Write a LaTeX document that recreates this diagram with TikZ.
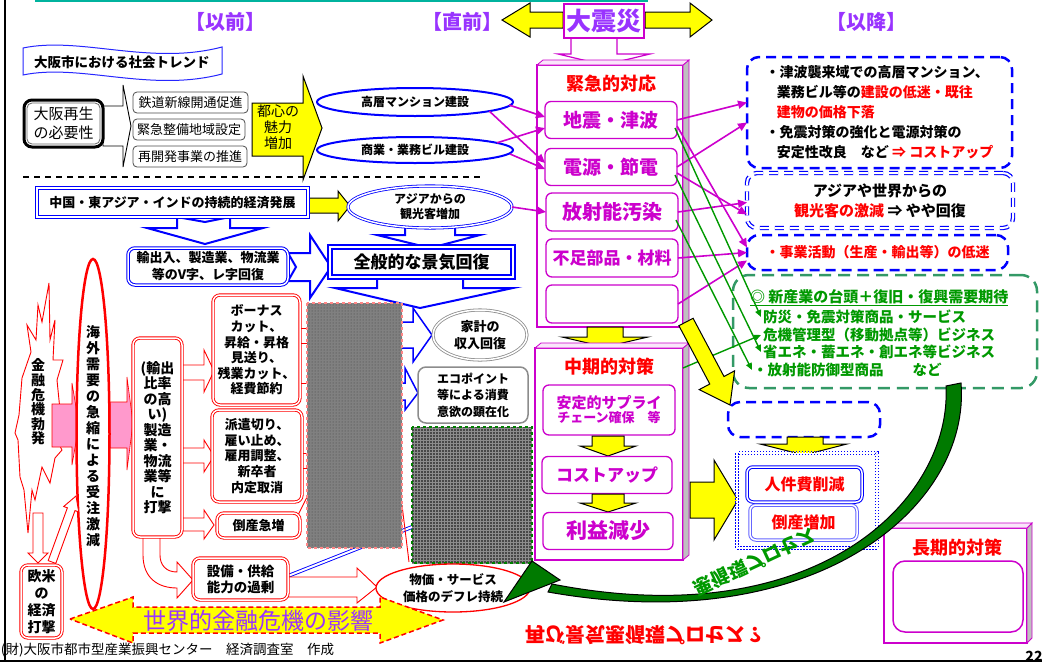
\documentclass[tikz,border=0pt]{standalone}
\usepackage{fontspec}
\setmainfont{Noto Sans CJK JP}
\usetikzlibrary{shapes.geometric,arrows.meta,calc,patterns}
\definecolor{vio}{HTML}{9933FF}
\definecolor{mag}{HTML}{CC00CC}
\definecolor{blu}{HTML}{0000FF}
\definecolor{grn}{HTML}{009900}
\definecolor{gdash}{HTML}{339966}
\definecolor{yel}{HTML}{FFFF00}
\definecolor{tealx}{HTML}{00B39E}
\definecolor{pinkx}{HTML}{FF99CC}
\definecolor{dkgrn}{HTML}{007A00}
\newcommand\fz[2]{\fontsize{#1}{#2}\selectfont}
\begin{document}
\begin{tikzpicture}[x=1pt,y=-1pt,
  every node/.style={inner sep=0pt,outer sep=0pt},
  hd/.style={font=\fz{20}{22}\bfseries,text=vio},
  yarr/.style={fill=yel,draw=black,line width=1pt,line join=miter},
  barr/.style={draw=blu,line width=2pt,fill=white,line join=miter},
  rarr/.style={draw=red,line width=0.9pt,fill=white,line join=miter},
  parr/.style={draw=red,line width=0.6pt,fill=pinkx},
  bigmag/.style={draw=mag,line width=1.2pt,fill=white},
  sideface/.style={draw=mag,line width=0.8pt,fill=black!25},
  topface/.style={draw=mag,line width=0.8pt,fill=mag!10},
  sub/.style={draw=mag,line width=1.3pt,fill=white,rounded corners=6pt,text=mag,minimum width=132pt,minimum height=37pt},
  reddbl/.style={draw=red,double=white,double distance=1.5pt,line width=0.9pt,rounded corners=7pt,fill=white,align=center},
  bludbl/.style={draw=blu,double=white,double distance=1.5pt,line width=1pt,fill=white,align=center},
  sbox/.style={draw=black!70,line width=0.8pt,rounded corners=4pt,fill=white,font=\fz{13}{15},minimum height=21pt},
  bdash/.style={draw=blu,dash pattern=on 10pt off 6pt,line width=2.5pt,rounded corners=12pt,fill=white},
  gtxt/.style={anchor=west,text=grn,font=\fz{14.5}{16}\bfseries},
  magarr/.style={draw=mag,line width=1.6pt,-{Triangle[length=9pt,width=8pt]}},
  grnarr/.style={draw=grn,line width=1.4pt,-{Triangle[length=7pt,width=6pt]}},
]
\useasboundingbox (0,0) rectangle (1042,662);
% frame
\draw[tealx,line width=2pt] (35,1) -- (648,1);
\draw[black,line width=2pt] (5,0) -- (5,662);
\draw[black,line width=1.5pt] (0,661) -- (1042,661);

% headings
\node[hd] (hmae) at (225,22) {【以前】};
\node[hd] (hchok) at (462,22) {【直前】};
\node[hd] (hgo) at (866,22) {【以降】};
\draw[yarr] (502,20) -- (530,3) -- (530,12) -- (563,12) -- (563,28) -- (530,28) -- (530,37) -- cycle;
\draw[yarr] (645,12) -- (690,12) -- (690,3) -- (712,20) -- (690,37) -- (690,28) -- (645,28) -- cycle;
\draw[draw=mag,line width=1.2pt,fill=white,line join=miter] (571,37) -- (571,54) -- (558,54) -- (604,65) -- (650,54) -- (617,54) -- (617,37) -- cycle;
\node[draw=mag,line width=1.2pt,fill=white,minimum width=80pt,minimum height=34pt,text=vio,font=\fz{25}{28}\bfseries] (dai) at (604,21) {大震災};

% ---------- before: trend ----------
\draw[blu!85,line width=1pt,fill=white] (23,48) .. controls (80,36) and (150,66) .. (222,47) -- (222,74) .. controls (150,93) and (80,63) .. (23,75) -- cycle;
\node[font=\fz{13.5}{16}\bfseries] (trend) at (122,62) {大阪市における社会トレンド};
\draw[draw=black,line width=0.9pt,fill=white,line join=miter] (103,106) -- (123,106) -- (123,85) -- (131,126) -- (123,167) -- (123,146) -- (103,146) -- cycle;
\node[draw=black,line width=3pt,rounded corners=8pt,minimum width=79pt,minimum height=47pt,align=center,font=\fz{15}{19},fill=white] (saisei) at (63.5,123.5) {大阪再生\\の必要性};
\draw[black!60,line width=0.8pt,rounded corners=5pt] ($(saisei.south west)+(3,-3)$) rectangle ($(saisei.north east)+(-3,3)$);
\node[sbox,minimum width=115pt] (tetsu) at (190.5,102.5) {鉄道新線開通促進};
\node[sbox,minimum width=112pt] (kinkyu) at (189,129.5) {緊急整備地域設定};
\node[sbox,minimum width=114pt] (saikai) at (190,156.5) {再開発事業の推進};
\draw[yarr] (252,103) -- (303,103) -- (303,76) -- (322,128) -- (303,180) -- (303,156) -- (252,156) -- cycle;
\node[align=center,font=\fz{14}{16}] (toshin) at (278,127) {都心の\\魅力\\増加};
\draw[dash pattern=on 6pt off 5pt,line width=1.2pt] (23,177) -- (480,177);

% ---------- blue chain ----------
\draw[barr] (177,217) -- (205,222) -- (230,217) -- (230,228) -- (263,228) -- (205,244) -- (147,228) -- (177,228) -- cycle;
\draw[barr] (405,221) -- (430,228) -- (455,221) -- (455,235) -- (480,235) -- (430,248) -- (377,235) -- (405,235) -- cycle;
\draw[barr] (288,253) -- (310,253) -- (310,235) -- (331,267) -- (310,298) -- (310,281) -- (288,281) -- (296,267) -- cycle;
\draw[barr] (377,277) -- (463,277) -- (463,288) -- (513,288) -- (420,308) -- (335,288) -- (377,288) -- cycle;
\draw[yarr] (308,198) -- (338,198) -- (338,191) -- (350,206) -- (338,221) -- (338,213) -- (308,213) -- cycle;
\node[draw=blu,line width=1.3pt,double=white,double distance=1.5pt,minimum width=271pt,minimum height=29pt,font=\fz{13}{16}\bfseries,fill=white] (chugoku) at (172.5,202.5) {中国・東アジア・インドの持続的経済発展};
\node[ellipse,draw=blu,double=white,double distance=1.5pt,line width=0.8pt,minimum width=164pt,minimum height=42pt,align=center,font=\fz{12}{15}\bfseries,fill=white] (asia) at (430,207) {アジアからの\\観光客増加};
\node[bludbl,rounded corners=7pt,minimum width=160pt,minimum height=37pt,font=\fz{13}{17}\bfseries] (yushutsu) at (208,266.5) {輸出入、製造業、物流業\\等のV字、レ字回復};
\node[draw=blu,line width=1.8pt,double=white,double distance=1.5pt,minimum width=183pt,minimum height=30pt,font=\fz{17}{20}\bfseries,fill=white] (zenpan) at (421.5,262) {全般的な景気回復};
\node[ellipse,draw=blu,line width=2pt,minimum width=196pt,minimum height=28pt,font=\fz{12}{14}\bfseries,fill=white] (koso) at (415,102) {高層マンション建設};
\node[ellipse,draw=blu,line width=2pt,minimum width=196pt,minimum height=26pt,font=\fz{12}{14}\bfseries,fill=white] (shogyo) at (415,150) {商業・業務ビル建設};

% arrows behind the gray blocks
\draw[draw=blu,line width=1.5pt,fill=white] (395,322) -- (413,322) -- (413,308) -- (432,335) -- (413,362) -- (413,348) -- (395,348) -- cycle;
\draw[draw=blu,line width=1.5pt,fill=white] (395,383) -- (405,383) -- (405,368) -- (418,393) -- (405,410) -- (405,400) -- (395,400) -- cycle;
\draw[blu,double=white,double distance=2pt,line width=0.9pt] (288,576) -- (412,527);
\draw[rarr] (298,328) rectangle (308,343);
\draw[red,line width=0.9pt] (298,383) -- (308,383);
\draw[rarr] (298,453) rectangle (308,468);
\draw[red,line width=0.9pt] (298,515) -- (308,495);
\draw[red,line width=0.9pt] (402,505) -- (409,562);
% gray blocks
\fill[black!50] (307,303) rectangle (402,548);
\fill[pattern=dots,pattern color=black!75] (307,303) rectangle (402,548);
\draw[pink!70!red,dashed,line width=1.2pt] (307,303) rectangle (402,548);
\fill[black!72] (412,427) rectangle (532,563);
\fill[pattern=grid,pattern color=black!45] (412,427) rectangle (532,563);
\draw[green!50!black,dashed,line width=1.5pt] (412,427) rectangle (532,563);
\node[ellipse,draw=black!45,double=white,double distance=1.5pt,line width=0.8pt,minimum width=94pt,minimum height=50pt,align=center,font=\fz{13}{17}\bfseries,fill=white] (kakei) at (480,335) {家計の\\収入回復};
\node[draw=black!45,line width=1.5pt,rounded corners=8pt,minimum width=110pt,minimum height=56pt,align=center,font=\fz{12}{16.5}\bfseries,fill=white] (eco) at (473,395) {エコポイント\\等による消費\\意欲の顕在化};

% ---------- red part ----------
\draw[draw=red,line width=0.9pt,fill=white,line join=miter] (49,283) -- (50,340) -- (55,320) -- (53,360) -- (63,360) -- (57,380) -- (61,420) -- (57,440) -- (62,450) -- (55,458) -- (50,483) -- (42,467) -- (35,500) -- (32,490) -- (28,533) -- (24,490) -- (20,477) -- (18,440) -- (15,433) -- (19,415) -- (22,378) -- (31,352) -- (27,325) -- (36,340) -- (38,305) -- (42,322) -- cycle;
\node[align=center,font=\fz{14}{14.6}\bfseries] (kinyu) at (38,402) {金\\融\\危\\機\\勃\\発};
\draw[parr] (52,404) -- (72,404) -- (72,383) -- (79,425) -- (72,465) -- (72,447) -- (52,447) -- cycle;
\draw[parr] (110,402) -- (127,402) -- (127,377) -- (133,423) -- (127,470) -- (127,448) -- (110,448) -- cycle;
\node[ellipse,draw=red,line width=2.5pt,minimum width=33pt,minimum height=350pt,fill=white] (kaigai) at (93,434) {};
\node[align=center,font=\fz{14}{16}\bfseries] (kaigait) at (93,436) {海\\外\\需\\要\\の\\急\\縮\\に\\よ\\る\\受\\注\\激\\減};
\draw[rarr] (33,513) -- (43,513) -- (43,553) -- (48,553) -- (38,563) -- (28,553) -- (33,553) -- cycle;
\draw[rarr] (55.8,563.4) -- (75,510.6) -- (78.7,511.9) -- (76,496) -- (63.7,506.5) -- (67.4,507.8) -- (48.2,560.6) -- cycle;
\node[reddbl,minimum width=41pt,minimum height=73pt,font=\fz{14}{17}\bfseries] (obei) at (41.5,601.5) {欧米\\の\\経済\\打撃};
\draw[rarr] (182,365) -- (204,365) -- (204,350) -- (214,371) -- (204,392) -- (204,380) -- (182,380) -- cycle;
\draw[rarr] (182,448) -- (204,448) -- (204,440) -- (214,456) -- (204,472) -- (204,463) -- (182,463) -- cycle;
\draw[rarr] (182,518) -- (204,518) -- (204,510) -- (214,525) -- (204,539) -- (204,531) -- (182,531) -- cycle;
\draw[rarr] (143,530) -- (143,555) .. controls (143,578) and (158,588) .. (177,588) -- (177,598) -- (193,580) -- (177,562) -- (177,572) .. controls (166,572) and (160,565) .. (160,555) -- (160,530) -- cycle;
\node[reddbl,minimum width=49pt,minimum height=199pt,font=\fz{14}{15.5}\bfseries] (seizo) at (157.5,437.5) {(輸出\\比率\\の高\\い)\\製造\\業・\\物流\\業等\\に\\打撃};
\node[reddbl,minimum width=87pt,minimum height=110pt,font=\fz{13}{15.6}\bfseries] (bonus) at (256.5,350) {ボーナス\\カット、\\昇給・昇格\\見送り、\\残業カット、\\経費節約};
\node[reddbl,minimum width=90pt,minimum height=92pt,font=\fz{13}{15.8}\bfseries] (haken) at (257,456) {派遣切り、\\雇い止め、\\雇用調整、\\新卒者\\内定取消};
\node[reddbl,minimum width=83pt,minimum height=25pt,font=\fz{13}{15}\bfseries] (tosanL) at (258.5,525.5) {倒産急増};
\draw[rarr] (288,577) -- (357,577) -- (357,568) -- (377,587) -- (357,603) -- (357,597) -- (288,597) -- cycle;
\node[reddbl,minimum width=95pt,minimum height=42pt,font=\fz{13.5}{16}\bfseries] (setsubi) at (240.5,579) {設備・供給\\能力の過剰};
\node[ellipse,draw=red,line width=1.3pt,minimum width=154pt,minimum height=48pt,align=center,font=\fz{12.5}{17}\bfseries,fill=white] (defl) at (453,588) {物価・サービス\\価格のデフレ持続};
\draw[fill=yel,draw=red,dash pattern=on 5pt off 3pt,line width=1.5pt] (70,619) -- (133,597) -- (133,607) -- (380,607) -- (380,597) -- (443,620) -- (380,643) -- (380,633) -- (133,633) -- (133,643) -- cycle;
\node[text=vio,font=\fz{23}{25}] (world) at (258,621) {世界的金融危機の影響};
\node[anchor=west,font=\fz{13.5}{15}] (foot) at (1,650) {(財)大阪市都市型産業振興センター　経済調査室　作成};
\node[font=\fz{14}{16}\bfseries] (pg) at (1034,656) {22};

% ---------- emergency ----------
\node[bigmag,minimum width=146pt,minimum height=262pt] (kin) at (610,196) {};
\draw[sideface] (kin.north east) -- ++(6,-5) -- ($(kin.south east)+(6,-5)$) -- (kin.south east) -- cycle;
\draw[topface] (kin.north west) -- ++(6,-5) -- ($(kin.north east)+(6,-5)$) -- (kin.north east) -- cycle;
\node[text=red,font=\fz{18}{20}\bfseries] (kintitle) at (611,84) {緊急的対応};
\node[sub,font=\fz{19}{22}\bfseries] (jishin) at (611,120) {地震・津波};
\node[sub,font=\fz{19}{22}\bfseries] (dengen) at (611,167) {電源・節電};
\node[sub,font=\fz{20}{22}\bfseries,minimum height=38pt] (hosha) at (612,212) {放射能汚染};
\node[sub,font=\fz{17}{20}\bfseries,minimum height=38pt] (busoku) at (612,258) {不足部品・材料};
\node[sub,minimum height=38pt] (empt) at (612,304) {};
\draw[yarr] (587,327) -- (623,327) -- (623,337) -- (648,337) -- (605,347) -- (562,337) -- (587,337) -- cycle;

% ---------- mid term ----------
\node[bigmag,minimum width=148pt,minimum height=212pt] (chuki) at (609,454) {};
\draw[sideface] (chuki.north east) -- ++(6,-5) -- ($(chuki.south east)+(6,-5)$) -- (chuki.south east) -- cycle;
\draw[topface] (chuki.north west) -- ++(6,-5) -- ($(chuki.north east)+(6,-5)$) -- (chuki.north east) -- cycle;
\node[text=red,font=\fz{18}{20}\bfseries] (chukititle) at (609,367) {中期的対策};
\node[sub,minimum height=50pt,align=center,font=\bfseries] (antei) at (609,410) {{\fz{15}{20}安定的サプライ}\\{\fz{13}{18}チェーン確保　等}};
\draw[yarr] (592,436) -- (624,436) -- (624,446) -- (636,446) -- (608,456) -- (580,446) -- (592,446) -- cycle;
\node[sub,minimum width=130pt,font=\fz{17}{20}\bfseries] (cost) at (607,475) {コストアップ};
\draw[yarr] (592,494) -- (624,494) -- (624,503) -- (636,503) -- (608,512) -- (580,503) -- (592,503) -- cycle;
\node[sub,minimum width=130pt,font=\fz{21}{24}\bfseries] (rieki) at (608,531) {利益減少};

% ---------- right column ----------
\node[bdash,minimum width=265pt,minimum height=111pt,align=left,font=\fz{14}{20}\bfseries] (boxA) at (879.5,112.5) {・津波襲来域での高層マンション、\\\hspace*{0.8em}業務ビル等の\textcolor{red}{建設の低迷・既往}\\\hspace*{0.8em}\textcolor{red}{建物の価格下落}\\・免震対策の強化と電源対策の\\\hspace*{0.8em}安定性改良　など \textcolor{red}{⇒ コストアップ}};
\node[draw=blu,double=white,double distance=2pt,line width=1.2pt,dash pattern=on 9pt off 6pt,rounded corners=10pt,fill=white,minimum width=266pt,minimum height=55pt,align=center,font=\fz{15}{20}\bfseries] (boxB) at (880,200.5) {アジアや世界からの\\\textcolor{red}{観光客の激減} ⇒ やや回復};
\node[bdash,minimum width=261pt,minimum height=35pt,text=red,font=\fz{14}{16}\bfseries] (boxC) at (877.5,252.5) {・事業活動（生産・輸出等）の低迷};
\node[draw=gdash,dash pattern=on 12pt off 7pt,line width=2.5pt,rounded corners=16pt,fill=white,minimum width=304pt,minimum height=113pt] (boxD) at (885,331.5) {};
\node[gtxt,font=\fz{15}{17}\bfseries] (g0) at (750,298) {\underline{◎ 新産業の台頭＋復旧・復興需要期待}};
\node[gtxt] (g1) at (763,317) {防災・免震対策商品・サービス};
\node[gtxt] (g2) at (763,335) {危機管理型（移動拠点等）ビジネス};
\node[gtxt] (g3) at (763,352) {省エネ・蓄エネ・創エネ等ビジネス};
\node[gtxt] (g4) at (753,370) {・放射能防御型商品　　など};
\node[bdash,minimum width=152pt,minimum height=35pt] (boxE) at (804,419.5) {};
\draw[yarr] (787,437) -- (823,437) -- (823,444) -- (847,444) -- (804,455) -- (760,444) -- (787,444) -- cycle;
\draw[yarr] (690,482) -- (714,482) -- (714,460) -- (738,500) -- (714,540) -- (714,518) -- (690,518) -- cycle;
\node[draw=blu,line width=1pt,dash pattern=on 1.5pt off 1.5pt,double=white,double distance=2pt,fill=white,minimum width=140pt,minimum height=95pt] (boxF) at (807,500.5) {};
\node[bludbl,rounded corners=6pt,minimum width=115pt,minimum height=35pt,text=red,font=\fz{16}{18}\bfseries] (jinken) at (804.5,484.5) {人件費削減};
\node[draw=blu!60,double=white,double distance=1.5pt,line width=1pt,fill=white,rounded corners=6pt,minimum width=107pt,minimum height=35pt,text=red,font=\fz{16}{18}\bfseries] (tosanR) at (803.5,522.5) {倒産増加};

% long term
\node[bigmag,minimum width=143pt,minimum height=115pt] (choki) at (955.5,585.5) {};
\draw[sideface] (choki.north east) -- ++(5,-5) -- ($(choki.south east)+(5,-5)$) -- (choki.south east) -- cycle;
\draw[topface] (choki.north west) -- ++(5,-5) -- ($(choki.north east)+(5,-5)$) -- (choki.north east) -- cycle;
\node[text=red,font=\fz{18}{20}\bfseries] (chokititle) at (957,548) {長期的対策};
\node[draw=mag,line width=1.5pt,rounded corners=12pt,minimum width=130pt,minimum height=71pt] (chokiin) at (958,596.5) {};

% ---------- connectors ----------
\draw[magarr] ($(koso.east)+(-4,3)$) -- ($(jishin.west)+(0,-3)$);
\draw[magarr] (koso.-7) -- ($(dengen.west)+(0,-4)$);
\draw[magarr] (shogyo.5) -- ($(jishin.west)+(0,8)$);
\draw[magarr] ($(shogyo.east)+(-3,4)$) -- ($(dengen.west)+(0,2)$);
\draw[magarr] (asia.east) -- (hosha.west);
\draw[magarr] (jishin.east) -- ($(boxA.west)+(0,-10)$);
\draw[magarr] (dengen.east) -- ($(boxA.west)+(0,10)$);
\draw[magarr] ($(jishin.east)+(0,6)$) -- ($(boxC.west)+(0,-5)$);
\draw[magarr] ($(dengen.east)+(0,6)$) -- ($(boxB.west)+(0,14)$);
\draw[magarr] (hosha.east) -- ($(boxB.west)+(0,2)$);
\draw[magarr] (busoku.east) -- (boxC.west);
\draw[magarr] (empt.east) -- ($(boxC.west)+(0,8)$);
\draw[grnarr] ($(jishin.east)+(-2,8)$) -- ($(g1.west)+(-2,0)$);
\draw[grnarr] ($(dengen.east)+(-2,8)$) -- ($(g3.west)+(-2,0)$);
\draw[grnarr] ($(hosha.east)+(-2,8)$) -- ($(g4.west)+(-1,0)$);
\draw[grnarr] ($(chuki.east)+(0,-86)$) -- ($(g2.west)+(-2,0)$);

% big yellow diagonal arrow
\draw[yarr] (693.1,318.3) -- (724,376.5) -- (734.6,370.8) -- (730,405) -- (699.2,389.6) -- (709.8,384) -- (678.9,325.7) -- cycle;
% green curved arrow
\draw[fill=dkgrn,draw=black,line width=1pt] (946,386) .. controls (952,499) and (818,636) .. (552,584) -- (548,592) .. controls (818,640) and (971,505) .. (961,383) -- cycle;
\draw[fill=dkgrn,draw=black,line width=1pt,line join=miter] (532,561) -- (504,602) -- (560,580) -- cycle;
\node[rotate=25,yscale=-1,text=grn,font=\fz{19}{20}\bfseries] (akujun) at (755,562) {悪循環プロセス};
\node[yscale=-1,text=red,font=\fz{20}{22}\bfseries] (futatabi) at (645,635) {再び景気悪循環プロセス？};
\end{tikzpicture}
\end{document}
